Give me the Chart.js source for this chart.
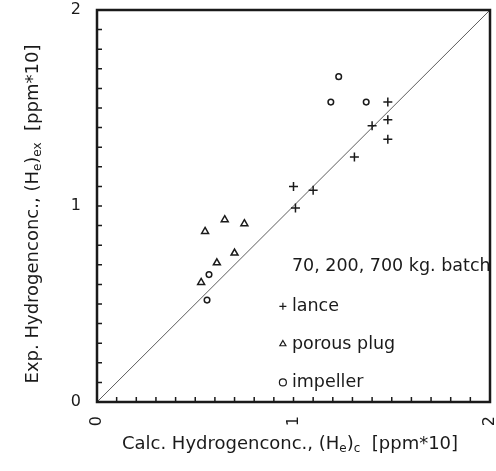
<!DOCTYPE html>
<html>
<head>
<meta charset="utf-8">
<script src="https://cdn.jsdelivr.net/npm/chart.js@4/dist/chart.umd.min.js"></script>
<style>
  body { margin: 0; background: #fff; }
  #wrap { width: 496px; height: 471px; }
</style>
</head>
<body>
<div id="wrap"><canvas id="chart" width="496" height="471"></canvas></div>
<script>
"use strict";

// values
const lanceX = [1.00, 1.10, 1.01, 1.31, 1.40, 1.48, 1.48, 1.48];
const lanceY = [1.10, 1.08, 0.99, 1.25, 1.41, 1.53, 1.44, 1.34];
const plugX = [0.55, 0.65, 0.75, 0.70, 0.61, 0.53];
const plugY = [0.87, 0.93, 0.91, 0.76, 0.71, 0.61];
const impX = [1.23, 1.19, 1.37, 0.57, 0.56];
const impY = [1.66, 1.53, 1.53, 0.65, 0.52];
const diagX = [0, 2];
const diagY = [0, 2];

const seriesNames = ["lance", "porous plug", "impeller"];
const legendTitle = "70, 200, 700 kg. batch";
const axisMin = 0, axisMax = 2, minorStep = 0.1;

// titles with subscripts, as [text, isSub] parts
const xTitle = [["Calc. Hydrogenconc., (H", false], ["e", true], [")", false], ["c", true], ["  [ppm*10]", false]];
const yTitle = [["Exp. Hydrogenconc., (H", false], ["e", true], [")", false], ["ex", true], ["  [ppm*10]", false]];

const FONT = "'DejaVu Sans', sans-serif";
const INK = "#1a1a1a";

const pts = (xs, ys) => xs.map((x, i) => ({x: x, y: ys[i]}));

function drawRich(ctx, parts, cx, cy) {
    const big = "18px " + FONT, small = "12px " + FONT;
    let total = 0;
    for (const [t, sub] of parts) { ctx.font = sub ? small : big; total += ctx.measureText(t).width; }
    let x = cx - total / 2;
    ctx.textBaseline = "middle";
    ctx.textAlign = "left";
    for (const [t, sub] of parts) {
        ctx.font = sub ? small : big;
        ctx.fillText(t, x, sub ? cy + 5 : cy);
        x += ctx.measureText(t).width;
    }
}

const paperPlugin = {
    id: "paper",
    afterDraw(chart) {
        const ctx = chart.ctx, a = chart.chartArea;
        const xs = chart.scales.x, ys = chart.scales.y;
        ctx.save();
        ctx.strokeStyle = INK;
        ctx.fillStyle = INK;

        // frame
        ctx.lineWidth = 2.5;
        ctx.strokeRect(a.left, a.top, a.right - a.left, a.bottom - a.top);

        // inward minor ticks
        ctx.lineWidth = 1.5;
        ctx.beginPath();
        for (const t of xs.ticks) {
            const px = xs.getPixelForValue(t.value);
            ctx.moveTo(px, a.bottom);
            ctx.lineTo(px, a.bottom - 5);
        }
        for (const t of ys.ticks) {
            const py = ys.getPixelForValue(t.value);
            ctx.moveTo(a.left, py);
            ctx.lineTo(a.left + 5, py);
        }
        ctx.stroke();

        // legend block inside the plot
        const w = a.right - a.left, h = a.bottom - a.top;
        const mx = a.left + w * 0.473, tx = a.left + w * 0.496;
        ctx.font = "17.5px " + FONT;
        ctx.textBaseline = "middle";
        ctx.textAlign = "left";
        ctx.fillText(legendTitle, tx, a.top + h * 0.655);
        const rows = [0.756, 0.852, 0.95];
        chart.data.datasets.slice(0, 3).forEach((ds, i) => {
            const y = a.top + h * rows[i];
            ctx.save();
            ctx.fillStyle = "rgba(0,0,0,0)";
            ctx.lineWidth = 1.2;
            Chart.helpers.drawPoint(ctx, {pointStyle: ds.pointStyle, radius: 3.5, borderWidth: 1.2, rotation: 0}, mx, y);
            ctx.restore();
            ctx.fillText(ds.label, tx, y);
        });

        // axis titles
        drawRich(ctx, xTitle, 290, 444);
        ctx.translate(33, 214);
        ctx.rotate(-Math.PI / 2);
        drawRich(ctx, yTitle, 0, 0);
        ctx.restore();
    }
};

const intLabel = (v) => Math.abs(v - Math.round(v)) < 1e-6 ? String(Math.round(v)) : "";

const markerStyle = {
    showLine: false,
    borderColor: INK,
    backgroundColor: "rgba(0,0,0,0)",
    borderWidth: 1.5,
    pointHoverRadius: 4
};

new Chart(document.getElementById("chart"), {
    type: "scatter",
    data: {
        datasets: [
            Object.assign({label: seriesNames[0], data: pts(lanceX, lanceY), pointStyle: "cross", pointRadius: 4.5}, markerStyle),
            Object.assign({label: seriesNames[1], data: pts(plugX, plugY), pointStyle: "triangle", pointRadius: 4}, markerStyle),
            Object.assign({label: seriesNames[2], data: pts(impX, impY), pointStyle: "circle", pointRadius: 2.8}, markerStyle),
            {label: "y = x", data: pts(diagX, diagY), showLine: true, borderColor: "#333", borderWidth: 0.8, pointRadius: 0}
        ]
    },
    options: {
        responsive: false,
        animation: false,
        layout: {padding: {top: 10, right: 6, left: 0, bottom: 0}},
        plugins: {legend: {display: false}, tooltip: {enabled: false}},
        scales: {
            x: {
                type: "linear", min: axisMin, max: axisMax,
                grid: {display: false},
                border: {display: false},
                ticks: {stepSize: minorStep, autoSkip: false, callback: intLabel, minRotation: 90, maxRotation: 90,
                        padding: 6, color: INK, font: {family: FONT, size: 16}},
                afterFit: (s) => { s.height = 69; s.paddingLeft = 0; s.paddingRight = 0; }
            },
            y: {
                type: "linear", min: axisMin, max: axisMax,
                grid: {display: false},
                border: {display: false},
                ticks: {stepSize: minorStep, autoSkip: false, callback: intLabel, padding: 8,
                        color: INK, font: {family: FONT, size: 16}},
                afterFit: (s) => { s.width = 97; s.paddingTop = 0; s.paddingBottom = 0; }
            }
        }
    },
    plugins: [paperPlugin]
});
</script>
</body>
</html>
